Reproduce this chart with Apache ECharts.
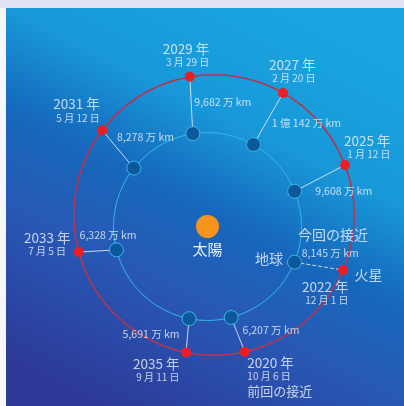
<!DOCTYPE html>
<html>
<head>
<meta charset="utf-8">
<script src="https://cdn.jsdelivr.net/npm/echarts@6/dist/echarts.min.js"></script>
<style>
  html, body { margin: 0; padding: 0; background: #ffffff; }
  #chart { width: 404px; height: 406px; }
</style>
</head>
<body>
<div id="chart"></div>
<script>
// 最接近の日付と距離 (2020〜2035)
const years = ['2020 年', '2022 年', '2025 年', '2027 年', '2029 年', '2031 年', '2033 年', '2035 年'];
const dates = ['10 月 6 日', '12 月 1 日', '1 月 12 日', '2 月 20 日', '3 月 29 日', '5 月 12 日', '7 月 5 日', '9 月 11 日'];
const distances = ['6,207 万 km', '8,145 万 km', '9,608 万 km', '1 億 142 万 km', '9,682 万 km', '8,278 万 km', '6,328 万 km', '5,691 万 km'];
// 軌道上の位置 (度)
const earthLon = [-75.4, -22.3, 22.0, 60.7, 99.0, 141.6, 194.4, 258.7];
const marsLon = [-77.3, -23.1, 20.9, 60.5, 99.9, 142.8, 195.3, 258.5];
// 軌道 [中心x, 中心y, 半径] (AU)
const earthOrbit = [0, 0, 1.0];
const marsOrbit = [0.069, 0.122, 1.4926];
const sunName = '太陽';
const earthName = '地球';
const marsName = '火星';
const nowNote = '今回の接近';
const prevNote = '前回の接近';

const FONT = '"Noto Sans CJK JP", "Noto Sans", sans-serif';
const TXT = '#eef3fa';

// ラベル配置 (px)
const dateLabelPos = [
  [[3, 4], 'left', 'top'],
  [[6, 10], 'right', 'top'],
  [[46, -4], 'right', 'bottom'],
  [[33, -8], 'right', 'bottom'],
  [[20, -8], 'right', 'bottom'],
  [[-2, -6], 'right', 'bottom'],
  [[-31, -21], 'center', 'top'],
  [[-6, 4], 'right', 'top']
];
const distLabelPos = [
  [[5, -4], 'left'],
  [[-16.5, -13], 'left'],
  [[-4, 13.5], 'left'],
  [[4, 4.5], 'left'],
  [[3.5, -3], 'left'],
  [[-0.5, -11.5], 'left'],
  [[-17.5, -15], 'left'],
  [[-7.5, -1], 'right']
];

const rad = d => d * Math.PI / 180;
const onOrbit = (orb, a) => [orb[0] + orb[2] * Math.cos(rad(a)), orb[1] + orb[2] * Math.sin(rad(a))];
const earthPts = earthLon.map(a => onOrbit(earthOrbit, a));
const marsPts = marsLon.map(a => onOrbit(marsOrbit, a));
const midPts = earthPts.map((e, i) => [(e[0] + marsPts[i][0]) / 2, (e[1] + marsPts[i][1]) / 2]);

const chart = echarts.init(document.getElementById('chart'), null, { renderer: 'canvas' });

const option = {
  animation: false,
  textStyle: { fontFamily: FONT },
  graphic: [
    { type: 'rect', left: 0, top: 0, z: -10, shape: { width: 404, height: 8 }, style: { fill: '#dfe2f2' } },
    { type: 'rect', left: 0, top: 8, z: -10, shape: { width: 6, height: 398 }, style: { fill: '#f6f7fb' } },
    {
      type: 'rect', left: 6, top: 8, z: -10,
      shape: { width: 398, height: 398 },
      style: {
        fill: new echarts.graphic.LinearGradient(0.75, 0, 0.25, 1, [
          { offset: 0, color: '#19a6e0' },
          { offset: 0.3, color: '#1898d9' },
          { offset: 0.5, color: '#1668bc' },
          { offset: 0.7, color: '#2858b5' },
          { offset: 1, color: '#2d3a98' }
        ])
      }
    }
  ],
  grid: { left: 6, top: 8, right: 0, bottom: 0 },
  xAxis: { type: 'value', min: -2.1436, max: 2.0904, show: false },
  yAxis: { type: 'value', min: -1.9096, max: 2.3245, show: false },
  series: [
    {
      // 軌道
      type: 'custom',
      silent: true,
      data: [earthOrbit, marsOrbit],
      renderItem: (params, api) => {
        const c = api.coord([api.value(0), api.value(1)]);
        const r = api.size([api.value(2), 0])[0];
        const isMars = params.dataIndex === 1;
        return {
          type: 'circle',
          shape: { cx: c[0], cy: c[1], r: r },
          style: {
            fill: 'none',
            stroke: isMars ? '#b8344f' : '#35b6ea',
            lineWidth: isMars ? 1.6 : 1
          }
        };
      }
    },
    {
      // 地球と火星を結ぶ線
      type: 'lines',
      coordinateSystem: 'cartesian2d',
      silent: true,
      lineStyle: { color: '#dce6f0', width: 1, opacity: 0.9 },
      data: earthPts.map((e, i) => ({
        coords: [e, marsPts[i]],
        lineStyle: i === 1 ? { type: 'dashed' } : {}
      }))
    },
    {
      type: 'scatter',
      data: [[0, 0]],
      symbolSize: 23,
      itemStyle: { color: '#f7941d', opacity: 1 },
      label: {
        show: true, position: 'bottom', distance: 4,
        formatter: sunName, color: TXT, fontSize: 15, fontFamily: FONT
      }
    },
    {
      type: 'scatter',
      data: earthPts,
      symbolSize: 14,
      itemStyle: { color: '#0d589a', borderColor: '#3bb8ea', borderWidth: 1, opacity: 1 }
    },
    {
      type: 'scatter',
      data: marsPts,
      symbolSize: 10,
      itemStyle: { color: '#ee1c25', opacity: 1 }
    },
    {
      // 日付ラベル
      type: 'scatter',
      silent: true,
      symbolSize: 1,
      itemStyle: { color: 'transparent' },
      data: marsPts.map((p, i) => ({
        value: p,
        label: {
          position: dateLabelPos[i][0],
          align: dateLabelPos[i][1],
          verticalAlign: dateLabelPos[i][2]
        }
      })),
      label: {
        show: true,
        fontFamily: FONT,
        formatter: p => {
          let s = '{y|' + years[p.dataIndex] + '}\n{d|' + dates[p.dataIndex] + '}';
          if (p.dataIndex === 0) s += '\n{n|' + prevNote + '}';
          return s;
        },
        rich: {
          y: { fontSize: 13.5, lineHeight: 15, color: TXT, fontFamily: FONT },
          d: { fontSize: 10, lineHeight: 12, color: TXT, fontFamily: FONT },
          n: { fontSize: 13, lineHeight: 17, color: TXT, fontFamily: FONT }
        }
      }
    },
    {
      // 距離ラベル
      type: 'scatter',
      silent: true,
      symbolSize: 1,
      itemStyle: { color: 'transparent' },
      data: midPts.map((p, i) => ({
        value: p,
        label: {
          position: distLabelPos[i][0],
          align: distLabelPos[i][1],
          verticalAlign: 'middle'
        }
      })),
      label: {
        show: true,
        fontFamily: FONT,
        fontSize: 10.5,
        color: TXT,
        formatter: p => distances[p.dataIndex]
      }
    },
    {
      // 名前ラベル
      type: 'scatter',
      silent: true,
      symbolSize: 1,
      itemStyle: { color: 'transparent' },
      label: { show: true, fontFamily: FONT, fontSize: 14, color: TXT, verticalAlign: 'middle' },
      data: [
        { value: marsPts[1], label: { formatter: marsName, position: [12, 5], align: 'left' } },
        { value: earthPts[1], label: { formatter: earthName, position: [-11, -3], align: 'right' } },
        { value: earthPts[1], label: { formatter: nowNote, position: [4, -27], align: 'left' } }
      ]
    }
  ]
};

chart.setOption(option);
</script>
</body>
</html>
